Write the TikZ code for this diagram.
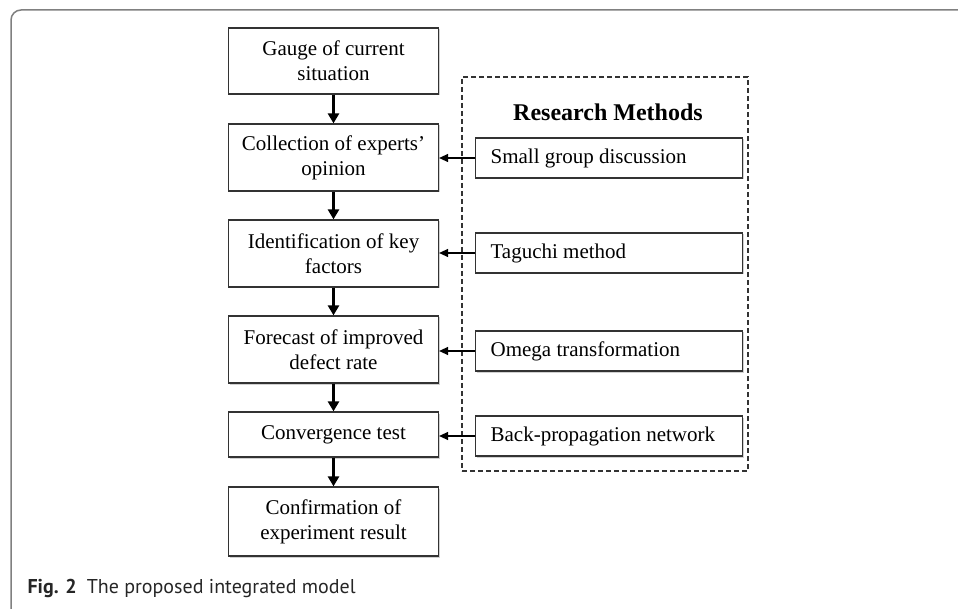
\documentclass[tikz,border=0pt]{standalone}
\usepackage{fontspec}
\setmainfont{Liberation Serif}
\newfontfamily\capfont{PT Sans}
\usetikzlibrary{arrows.meta,positioning,shadows}

\tikzset{
  boxshadow/.style={drop shadow={shadow xshift=1.5pt,shadow yshift=-1.5pt,opacity=0.18,fill=black}},
  stepbox/.style={draw=black!80,line width=1.2pt,fill=white,align=center,
    minimum width=210pt,minimum height=66pt,inner sep=2pt,
    font=\fontsize{21}{25}\selectfont,boxshadow},
  methodbox/.style={draw=black!80,line width=1.2pt,fill=white,anchor=west,
    text width=237pt,align=flush left,minimum height=40pt,inner xsep=15pt,
    font=\fontsize{21}{25}\selectfont,boxshadow},
  flow/.style={line width=3pt,-{Triangle[length=10pt,width=11pt]}},
  feed/.style={line width=1.2pt,-{Triangle[length=9pt,width=8pt]}},
}

\begin{document}
\begin{tikzpicture}[x=1pt,y=-1pt]
			\useasboundingbox (0,0) rectangle (958,609);
			
			% Outer frame
			\draw[black!50,line width=1.5pt,rounded corners=10pt] (11,609) -- (11,10) -- (958,10);
			
			% Main steps
			\node[stepbox] (gauge) at (333.5,61) {Gauge of current\\situation};
			\node[stepbox,minimum height=67pt] (collect) at (333.5,157.5) {Collection of experts'\\opinion};
			\node[stepbox,minimum height=67pt] (ident) at (333.5,253.5) {Identification of key\\factors};
			\node[stepbox,minimum height=67pt] (forecast) at (333.5,349.5) {Forecast of improved\\defect rate};
			\node[stepbox,minimum height=45pt] (converge) at (333.5,434.5) {Convergence test};
			\node[stepbox,minimum height=69pt] (confirm) at (333.5,521.5) {Confirmation of\\experiment result};
			
			\draw[flow] (gauge) -- (collect);
			\draw[flow] (collect) -- (ident);
			\draw[flow] (ident) -- (forecast);
			\draw[flow] (forecast) -- (converge);
			\draw[flow] (converge) -- (confirm);
			
			% Research methods
			\node[draw=black!80,line width=1.2pt,dash pattern=on 5pt off 3pt,minimum width=286pt,minimum height=394pt] (methods) at (605,274) {};
			\node[font=\fontsize{24}{28}\selectfont\bfseries] (title) at (608,112) {Research Methods};
			\node[methodbox] (small) at (475,158) {Small group discussion};
			\node[methodbox] (taguchi) at (475,253) {Taguchi method};
			\node[methodbox] (omega) at (475,351) {Omega transformation};
			\node[methodbox] (backprop) at (475,436) {Back-propagation network};
			
			\draw[feed] (small.west) -- (small.west -| collect.east);
			\draw[feed] (taguchi.west) -- (taguchi.west -| ident.east);
			\draw[feed] (omega.west) -- (omega.west -| forecast.east);
			\draw[feed] (backprop.west) -- (backprop.west -| converge.east);
			
			% Caption
			\node[anchor=west,font=\capfont\fontsize{20}{24}\selectfont,text=black!85] (caption) at (24,588) {\textbf{Fig. 2}\enspace The proposed integrated model};
		\end{tikzpicture}
\end{document}
